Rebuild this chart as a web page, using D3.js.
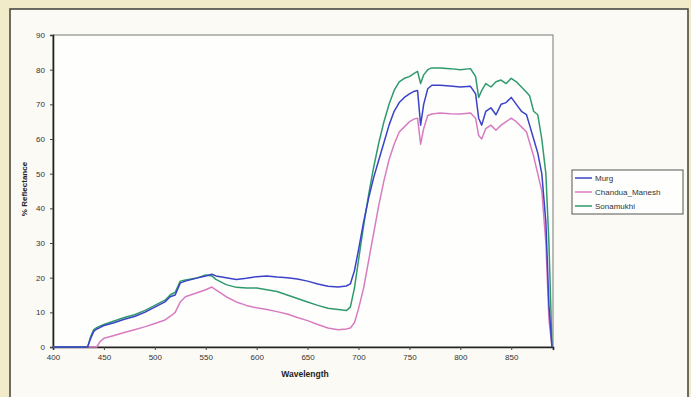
<!DOCTYPE html>
<html>
<head>
<meta charset="utf-8">
<script src="https://cdn.jsdelivr.net/npm/d3@7"></script>
<style>
  body { margin: 0; background: #f2ebc9; }
  svg { display: block; font-family: "Liberation Sans", Arial, sans-serif; }
</style>
</head>
<body>
<svg id="chart" width="691" height="397"></svg>
<script>
// wavelength (nm) and % reflectance
const wavelength = [400, 434, 437, 440, 443, 446, 450, 460, 470, 480, 490, 500, 510, 515, 520, 525, 530, 540, 550, 556,
  560, 570, 580, 590, 600, 610, 620, 630, 640, 650, 660, 670, 680, 688, 692, 696, 700, 705, 710, 715,
  720, 725, 730, 735, 740, 745, 750, 755, 758, 761, 764, 768, 772, 780, 790, 800, 810, 815, 818, 821,
  825, 830, 835, 840, 845, 850, 855, 860, 865, 868, 872, 876, 880, 884, 887, 890];

const murg = [0, 0, 2.5, 4.5, 5.2, 5.6, 6.2, 7.0, 8.0, 8.8, 10.0, 11.5, 13.0, 14.5, 15.0, 18.5, 19.0, 19.8, 20.5, 21.0,
  20.5, 20.0, 19.5, 19.8, 20.3, 20.5, 20.2, 20.0, 19.6, 19.0, 18.2, 17.5, 17.3, 17.6, 18.2, 22, 28, 36, 43, 49,
  54, 59, 64, 68, 70.5, 72, 73, 73.8, 74, 64, 70, 74.5, 75.5, 75.5, 75.3, 75.0, 75.2, 73, 66, 64,
  68, 69, 67, 70, 70.5, 72, 70, 68, 67, 64, 60, 56, 50, 36, 12, 0];

const chandua = [0, 0, 0, 0, 0, 1.5, 2.5, 3.3, 4.2, 5.0, 5.8, 6.8, 7.8, 8.8, 10, 13, 14.5, 15.5, 16.5, 17.3,
  16.5, 14.5, 13, 12, 11.3, 10.8, 10.2, 9.5, 8.5, 7.6, 6.5, 5.5, 5.0, 5.2, 5.5, 7, 11, 17, 25, 33,
  41, 48, 54, 58.5, 62, 63.5, 65, 65.8, 66, 58.5, 63, 66.8, 67.2, 67.5, 67.3, 67.2, 67.5, 66, 61, 60,
  63, 64, 62.5, 64, 65, 66, 65, 63.5, 62, 59, 55, 50, 45, 30, 8, 0];

const sonamukhi = [0, 0, 3, 5, 5.6, 6, 6.5, 7.5, 8.5, 9.3, 10.5, 12.0, 13.5, 15, 15.8, 19, 19.3, 19.8, 20.8, 20.5,
  19.5, 18, 17.2, 17, 17, 16.5, 16, 15, 14, 13, 12, 11.2, 10.8, 10.5, 11.5, 17, 25, 35, 44, 52,
  59, 65, 70, 74, 76.5, 77.5, 78, 79, 79.5, 76, 78.5, 80, 80.5, 80.5, 80.3, 80, 80.3, 78, 72, 74,
  76, 75, 76.5, 77, 76, 77.5, 76.5, 75, 73.5, 72.5, 68, 67, 60, 50, 30, 0];

const seriesNames = ["Murg", "Chandua_Manesh", "Sonamukhi"];
const seriesColors = ["#3b42c8", "#d87cc2", "#2f9a6c"];
const xTicks = [400, 450, 500, 550, 600, 650, 700, 750, 800, 850];
const yTicks = [0, 10, 20, 30, 40, 50, 60, 70, 80, 90];

const svg = d3.select("#chart");

// scanned page frame
svg.append("rect").attr("width", 691).attr("height", 397).attr("fill", "#f2ebc9");
svg.append("rect")
  .attr("x", 10).attr("y", 9).attr("width", 678).attr("height", 392)
  .attr("fill", "#fbfaf4").attr("stroke", "#4a4a44").attr("stroke-width", 1.6);

const plot = { left: 53, top: 35, right: 553, bottom: 347 };

const x = d3.scaleLinear().domain([400, 891]).range([plot.left, plot.right]);
const y = d3.scaleLinear().domain([0, 90]).range([plot.bottom, plot.top]);

// plot area
svg.append("rect")
  .attr("x", plot.left).attr("y", plot.top)
  .attr("width", plot.right - plot.left).attr("height", plot.bottom - plot.top)
  .attr("fill", "#fefefc").attr("stroke", "#8a8f8a").attr("stroke-width", 1.2);

// axes
const xAxis = svg.append("g")
  .attr("transform", "translate(0," + plot.bottom + ")")
  .call(d3.axisBottom(x).tickValues(xTicks).tickSize(3).tickPadding(4));
const yAxis = svg.append("g")
  .attr("transform", "translate(" + plot.left + ",0)")
  .call(d3.axisLeft(y).tickValues(yTicks).tickSize(3).tickPadding(5));

[xAxis, yAxis].forEach(g => {
  g.select(".domain").attr("stroke", "#222").attr("stroke-width", 1.6);
  g.selectAll(".tick line").attr("stroke", "#444");
  g.selectAll("text").attr("fill", "#333").style("font-size", "8px");
});

// lines
const line = d3.line()
  .x((d, i) => x(wavelength[i]))
  .y(d => y(d));

const seriesData = [murg, chandua, sonamukhi];
[1, 2, 0].forEach(k => {
  svg.append("path")
    .datum(seriesData[k])
    .attr("fill", "none")
    .attr("stroke", seriesColors[k])
    .attr("stroke-width", 1.5)
    .attr("stroke-linejoin", "round")
    .attr("d", line);
});

// axis titles
svg.append("text")
  .attr("x", (plot.left + plot.right) / 2 + 2).attr("y", 377)
  .attr("text-anchor", "middle")
  .attr("fill", "#222").style("font-size", "8.5px").style("font-weight", "bold")
  .text("Wavelength");

svg.append("text")
  .attr("transform", "translate(27," + 189 + ") rotate(-90)")
  .attr("text-anchor", "middle")
  .attr("fill", "#222").style("font-size", "8px").style("font-weight", "bold")
  .text("% Reflectance");

// legend
const legend = svg.append("g").attr("transform", "translate(572,170)");
legend.append("rect")
  .attr("width", 111).attr("height", 44)
  .attr("fill", "#fefefc").attr("stroke", "#555").attr("stroke-width", 1);

seriesNames.forEach((name, i) => {
  const row = legend.append("g").attr("transform", "translate(0," + (8 + i * 14) + ")");
  row.append("line")
    .attr("x1", 3).attr("x2", 20)
    .attr("stroke", seriesColors[i]).attr("stroke-width", 1.5);
  row.append("text")
    .attr("x", 23).attr("dy", "0.33em")
    .attr("fill", "#333").style("font-size", "8px")
    .text(name);
});
</script>
</body>
</html>
